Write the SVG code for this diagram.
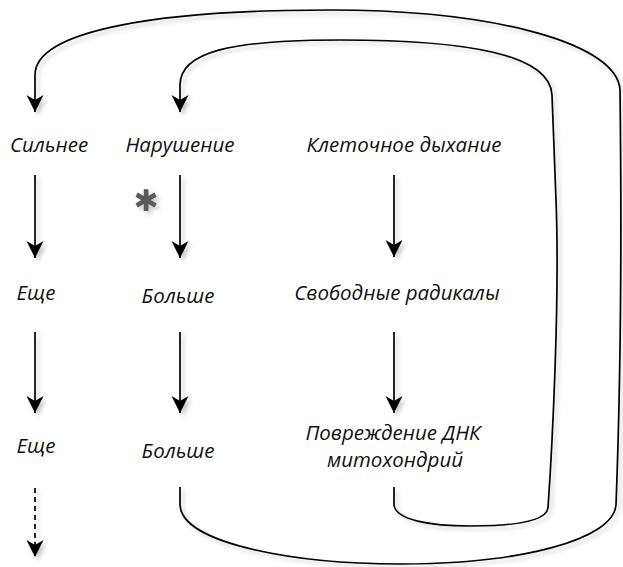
<svg xmlns="http://www.w3.org/2000/svg" width="623" height="567" viewBox="0 0 623 567">
<style>
.t{font-family:"Open Sans","Noto Sans",sans-serif;font-style:italic;font-size:20.5px;fill:#111;text-anchor:middle}
.c{fill:none;stroke:#000;stroke-width:1.7}
.d{stroke-dasharray:5 4}
</style>
<defs>
<marker id="ah" markerUnits="userSpaceOnUse" viewBox="-18 -9 19 18" refX="0" refY="0" markerWidth="19" markerHeight="18" orient="auto">
<path d="M0,0 L-17,-8.5 L-12,0 L-17,8.5 Z" fill="#000"/>
</marker>
<filter id="sh" x="-10%" y="-10%" width="120%" height="120%">
<feDropShadow dx="3" dy="3" stdDeviation="2" flood-color="#000" flood-opacity="0.22"/>
</filter>
</defs>
<g id="connectors" filter="url(#sh)">
<path class="c" d="M35,175 V258" marker-end="url(#ah)"/>
<path class="c" d="M180,175 V258" marker-end="url(#ah)"/>
<path class="c" d="M394,175 V257" marker-end="url(#ah)"/>
<path class="c" d="M35,332 V413" marker-end="url(#ah)"/>
<path class="c" d="M180,332 V413" marker-end="url(#ah)"/>
<path class="c" d="M394,332 V413" marker-end="url(#ah)"/>
<path class="c d" d="M35,488 V557" marker-end="url(#ah)"/>
<path class="c" d="M180,487 V505 C182,545 300,564 400,564 C520,564 613,540 616,505 C620,400 622,250 620,90 C618,45 500,10 330,10 C160,10 35,30 35,75 V112" marker-end="url(#ah)"/>
<path class="c" d="M394,487 V505 C396,520 430,526 470,526 C510,526 546,522 548,508 C552,450 560,300 556,200 L552,95 C550,55 470,40 340,40 C230,40 180,52 180,85 V112" marker-end="url(#ah)"/>
</g>
<g id="n-silnee"><text class="t" x="49" y="152">Сильнее</text></g>
<g id="n-narushenie"><text class="t" x="180" y="152">Нарушение</text></g>
<g id="n-kletochnoe"><text class="t" x="404" y="152">Клеточное дыхание</text></g>
<g id="n-eshe1"><text class="t" x="36" y="300">Еще</text></g>
<g id="n-bolshe1"><text class="t" x="178" y="303">Больше</text></g>
<g id="n-svobodnye"><text class="t" x="397" y="300">Свободные радикалы</text></g>
<g id="n-eshe2"><text class="t" x="36" y="453">Еще</text></g>
<g id="n-bolshe2"><text class="t" x="178" y="458">Больше</text></g>
<g id="n-povrezhdenie"><text class="t" x="393" y="440">Повреждение ДНК</text><text class="t" x="395" y="467">митохондрий</text></g>
<g id="asterisk" filter="url(#sh)"><text x="146" y="211" font-family="DejaVu Sans,sans-serif" font-size="30" fill="#5a5a5a" text-anchor="middle">✱</text></g>
</svg>
